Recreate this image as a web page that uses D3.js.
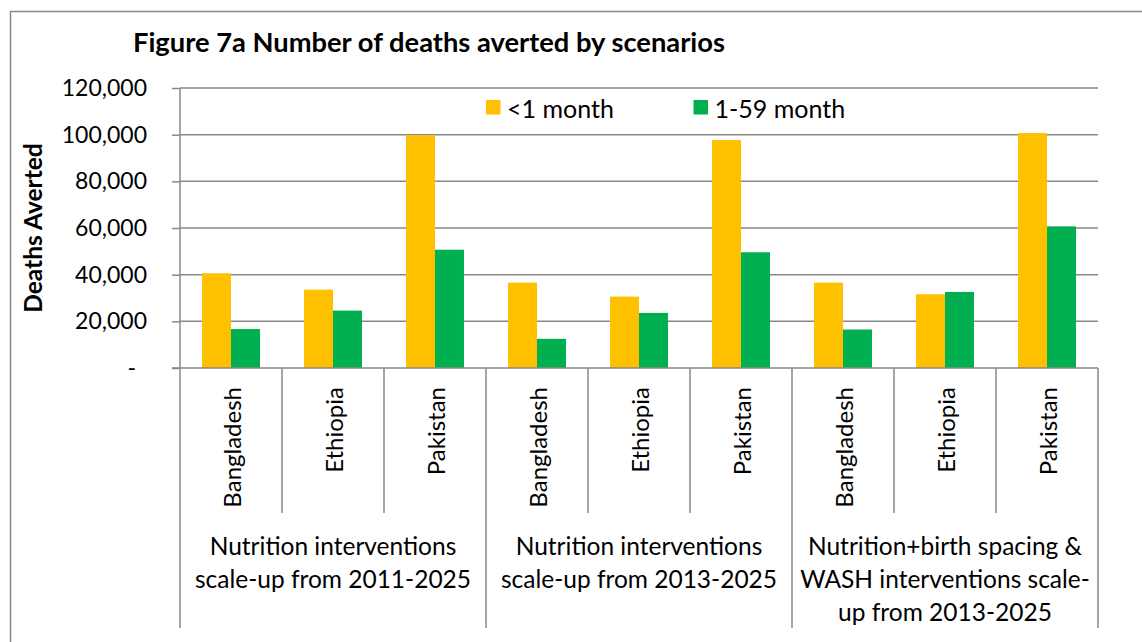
<!DOCTYPE html>
<html>
<head>
<meta charset="utf-8">
<script src="https://cdn.jsdelivr.net/npm/d3@7"></script>
<style>
  html, body { margin: 0; padding: 0; background: #fff; }
  svg { display: block; font-family: Lato, "Open Sans", sans-serif; }
</style>
</head>
<body>
<svg id="chart" width="1142" height="642"></svg>
<script>
// Scenario groups and countries shown under each group
const groups = [
  ["Nutrition interventions", "scale-up from 2011-2025"],
  ["Nutrition interventions", "scale-up from 2013-2025"],
  ["Nutrition+birth spacing &", "WASH interventions scale-", "up from 2013-2025"]
];
const countries = ["Bangladesh", "Ethiopia", "Pakistan"];
const seriesNames = ["<1 month", "1-59 month"];
const seriesColors = ["#FFC000", "#00B050"];

// Deaths averted, one value per country per group, in the order above
const neonatal = [40600, 33600, 99800, 36600, 30600, 97700, 36600, 31600, 100700];
const postNeonatal = [16700, 24600, 50700, 12500, 23600, 49600, 16500, 32600, 60700];

const yTicks = [0, 20000, 40000, 60000, 80000, 100000, 120000];

const svg = d3.select("#chart");
const gridColor = "#898989";

// Plot frame
const plotLeft = 180, plotRight = 1098, plotTop = 88, plotBottom = 368;

// Outer chart border
svg.append("rect")
  .attr("x", 10.5).attr("y", 11.5)
  .attr("width", 1300).attr("height", 800)
  .attr("fill", "none").attr("stroke", gridColor).attr("stroke-width", 1.5);

// Title
svg.append("text")
  .attr("x", 133).attr("y", 52)
  .attr("font-size", 27.3).attr("font-weight", "bold").attr("fill", "#000")
  .text("Figure 7a Number of deaths averted by scenarios");

// Category slots: one per group × country
const slots = [];
groups.forEach((g, gi) => countries.forEach((c, ci) => {
  const i = gi * countries.length + ci;
  slots.push({ i, group: gi, country: c, values: [neonatal[i], postNeonatal[i]] });
}));

const x0 = d3.scaleBand().domain(slots.map(d => d.i)).range([plotLeft, plotRight]).padding(0);
const x1 = d3.scaleBand().domain(seriesNames).range([0, x0.bandwidth()])
  .paddingInner(0).paddingOuter(0.76);
const y = d3.scaleLinear().domain([0, 120000]).range([plotBottom, plotTop]);

// Horizontal gridlines
svg.append("g").selectAll("line")
  .data(yTicks.filter(t => t > 0))
  .join("line")
  .attr("x1", plotLeft).attr("x2", plotRight)
  .attr("y1", d => y(d)).attr("y2", d => y(d))
  .attr("stroke", gridColor).attr("stroke-width", 1.5);

// Value axis
const yAxis = d3.axisLeft(y)
  .tickValues(yTicks)
  .tickSize(8)
  .tickPadding(25)
  .tickFormat(d => d === 0 ? "-" : d3.format(",")(d));
const yg = svg.append("g").attr("transform", `translate(${plotLeft},0)`).call(yAxis);
yg.select(".domain").remove();
yg.selectAll(".tick line").attr("stroke", gridColor).attr("stroke-width", 1.5);
yg.selectAll(".tick text")
  .attr("font-size", 23).attr("fill", "#000")
  .attr("font-family", "Lato, sans-serif")
  .attr("dx", d => d === 0 ? -11 : 0);

// Axis title
svg.append("text")
  .attr("transform", "translate(32,228) rotate(-90)")
  .attr("text-anchor", "middle").attr("dominant-baseline", "central")
  .attr("font-size", 24.5).attr("font-weight", "bold").attr("fill", "#000")
  .text("Deaths Averted");

// Bars
const barG = svg.append("g").selectAll("g")
  .data(slots)
  .join("g")
  .attr("transform", d => `translate(${x0(d.i)},0)`);
barG.selectAll("rect")
  .data(d => d.values.map((v, k) => ({ key: seriesNames[k], value: v, k })))
  .join("rect")
  .attr("x", d => x1(d.key))
  .attr("width", x1.bandwidth())
  .attr("y", d => y(d.value))
  .attr("height", d => y(0) - y(d.value))
  .attr("fill", d => seriesColors[d.k]);

// Category axis: baseline and separators
svg.append("line")
  .attr("x1", plotLeft - 8).attr("x2", plotRight)
  .attr("y1", plotBottom).attr("y2", plotBottom)
  .attr("stroke", gridColor).attr("stroke-width", 1.5);

const boundaries = d3.range(slots.length + 1);
svg.append("g").selectAll("line")
  .data(boundaries)
  .join("line")
  .attr("x1", i => i < slots.length ? x0(i) : plotRight)
  .attr("x2", i => i < slots.length ? x0(i) : plotRight)
  .attr("y1", i => i === 0 ? plotTop : plotBottom)
  .attr("y2", i => i % countries.length === 0 ? 628 : 513)
  .attr("stroke", gridColor).attr("stroke-width", 1.5);

// Country labels
svg.append("g").selectAll("text")
  .data(slots)
  .join("text")
  .attr("transform", d => `translate(${x0(d.i) + x0.bandwidth() / 2},387) rotate(-90)`)
  .attr("text-anchor", "end").attr("dominant-baseline", "central")
  .attr("font-size", 24).attr("fill", "#000")
  .text(d => d.country);

// Group labels
const groupG = svg.append("g").selectAll("text")
  .data(groups)
  .join("text")
  .attr("text-anchor", "middle")
  .attr("font-size", 24.5).attr("fill", "#000");
groupG.each(function (lines, gi) {
  const first = x0(gi * countries.length);
  const last = gi === groups.length - 1 ? plotRight : x0((gi + 1) * countries.length);
  const cx = (first + last) / 2;
  d3.select(this).selectAll("tspan")
    .data(lines)
    .join("tspan")
    .attr("x", cx)
    .attr("y", (d, k) => 555 + k * 33)
    .text(d => d);
});

// Legend
const legend = svg.append("g").selectAll("g")
  .data(seriesNames)
  .join("g")
  .attr("transform", (d, k) => `translate(${[486, 693.5][k]},100)`);
legend.append("rect")
  .attr("width", 14.5).attr("height", 14.5)
  .attr("fill", (d, k) => seriesColors[k]);
legend.append("text")
  .attr("x", 21).attr("y", 7.5)
  .attr("dominant-baseline", "central")
  .attr("font-size", 25).attr("fill", "#000")
  .text(d => d);
</script>
</body>
</html>
